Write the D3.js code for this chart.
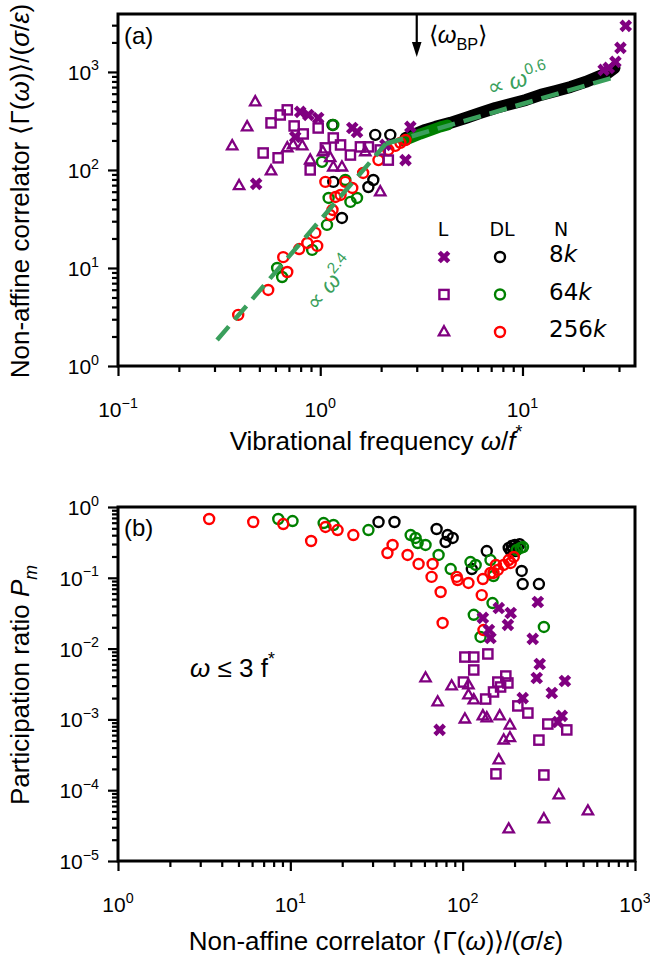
<!DOCTYPE html>
<html>
<head>
<meta charset="utf-8">
<script src="https://cdn.jsdelivr.net/npm/d3@7"></script>
<style>
body { margin: 0; background: #fff; }
text { font-family: "Liberation Sans", Arial, sans-serif; }
</style>
</head>
<body>
<script>
// ---------- panel (a): <Gamma(w)> vs w/f* ----------
var aL8k = [[0.482,72],[0.796,391],[0.873,364],[0.977,339],[0.752,217],[1.44,268],[1.52,244],[2.79,275],[2.64,126],[2.10,180],[25.2,1048],[26.7,1099],[28.8,1265],[30.5,1757],[32.4,2946]];
var aL64k = [[0.522,149],[0.619,133],[0.571,302],[0.634,364],[0.687,410],[0.743,281],[0.824,233],[0.892,100],[0.977,268],[1.16,212],[1.06,168],[1.58,172],[1.73,172],[1.98,160],[2.17,126],[1.26,180],[1.41,142]];
var aL256k = [[0.477,494],[0.435,275],[0.367,176],[0.397,69],[0.571,97.7],[0.687,168],[0.734,180],[0.815,176],[0.892,126],[1.03,153],[1.12,133],[1.16,107],[1.28,107],[1.98,59.6],[1.67,153]];
var aDL8k = [[1.15,288],[1.16,75.5],[1.28,32.4],[1.73,67],[1.83,79],[1.87,228],[2.22,228]];
var aDL8kBand = [[2.64,212],[2.95,233],[3.31,256],[3.71,275],[4.40,302],[5.23,339],[6.19,382],[7.35,429],[8.73,471],[10.4,518],[12.3,583],[14.6,640],[17.3,703],[20.5,791],[23.5,889],[26.4,977],[28.5,1099]];
var aDL64k = [[1.16,288],[1.02,121],[1.10,51.8],[1.52,51.8],[1.41,47.2],[1.08,27.5],[0.912,15.3],[0.648,8.09],[0.612,10.0],[1.33,79]];
var aDL64kBand = [[2.58,198],[3.13,233],[3.93,275],[4.26,288]];
var aDL256k = [[0.393,3.32],[0.553,5.97],[0.687,9.10],[0.656,12.9],[0.787,15.6],[0.863,18.0],[0.966,16.8],[0.945,22.8],[1.06,75.5],[1.33,75.5],[1.44,65.5],[1.26,55.6],[1.19,53],[1.15,39.1],[1.12,34.7],[1.63,93.2],[2.49,189],[2.35,176],[2.64,202],[1.94,126],[2.17,160]];
var fit24 = [[0.309,1.84],[2.11,185]];
var fit06 = [[2.11,185],[28.8,890]];
var omegaBP = 3.0;

// ---------- panel (b): P_m vs <Gamma(w)>, w <= 3 f* ----------
var bDL8k = [[32.5,0.614],[40.2,0.614],[70.6,0.489],[81.8,0.402],[87.5,0.365],[79.6,0.320],[138,0.239],[113,0.133],[220,0.125],[223,0.0817],[277,0.0817],[185,0.264],[193,0.281],[201,0.291],[209,0.272],[196,0.255],[203,0.239],[190,0.239],[214,0.298]];
var bDL64k = [[8.51,0.677],[10.3,0.634],[15.6,0.594],[17.8,0.557],[28.4,0.473],[49.9,0.402],[53.3,0.365],[54.8,0.310],[60.9,0.291],[72.5,0.210],[85.2,0.133],[111,0.167],[119,0.152],[145,0.178],[151,0.106],[149,0.044],[116,0.030],[127,0.0146],[296,0.0202],[217,0.264],[224,0.272],[206,0.247]];
var bDL256k = [[3.38,0.677],[6.09,0.614],[9.10,0.575],[13.2,0.331],[16.0,0.522],[18.8,0.473],[23.2,0.402],[39.2,0.291],[36.6,0.224],[47.9,0.210],[55.5,0.157],[66.9,0.157],[66.0,0.103],[74.5,0.063],[92.3,0.103],[93.5,0.093],[108,0.0845],[129,0.057],[76.5,0.023],[132,0.0183],[131,0.096],[145,0.117],[160,0.129],[173,0.152],[185,0.178],[198,0.197],[156,0.152],[190,0.162],[151,0.117]];
var bL8k = [[273,0.0455],[131,0.0271],[162,0.0374],[190,0.0318],[183,0.0216],[142,0.0183],[145,0.0141],[255,0.0137],[280,0.00606],[269,0.00384],[392,0.00349],[329,0.00236],[223,0.0020],[376,0.00112],[357,0.00092],[73.5,0.00071]];
var bL64k = [[103,0.0076],[116,0.0076],[140,0.0084],[116,0.00499],[101,0.00337],[160,0.00337],[178,0.0041],[183,0.00327],[166,0.00287],[151,0.00244],[136,0.00194],[209,0.00155],[239,0.00123],[312,0.00086],[402,0.00071],[277,0.00051],[156,0.00017],[296,0.000164]];
var bL256k = [[60.9,0.00384],[86.3,0.00296],[108,0.00306],[108,0.00221],[116,0.00188],[71.6,0.00176],[103,0.00101],[131,0.00112],[138,0.00105],[164,0.00112],[188,0.00083],[173,0.00051],[188,0.00055],[162,0.000267],[361,0.0000855],[533,0.0000508],[296,0.0000392],[185,0.0000283]];

var aXTicks = [0.1, 1, 10];
var aYTicks = [1, 10, 100, 1000];
var bXTicks = [1, 10, 100, 1000];
var bYTicks = [1e-5, 1e-4, 1e-3, 1e-2, 1e-1, 1];

var legendRows = ["8", "64", "256"];

var PURPLE = "#800080", GREEN = "#008000", RED = "#ff0000", FIT = "#3a9f5c";

var svg = d3.select("body").append("svg")
	.attr("width", 650)
	.attr("height", 962);

// minor ticks 2..9 of every decade in the domain
function minorTicks(scale) {
	var d = scale.domain(), out = [];
	var lo = Math.floor(Math.log10(d[0])), hi = Math.ceil(Math.log10(d[1]));
	for (var e = lo; e < hi; e++)
		for (var m = 2; m <= 9; m++) {
			var v = m * Math.pow(10, e);
			if (v > d[0] && v < d[1]) out.push(v);
		}
	return out;
}

// text with italic / super / subscript pieces
function rich(t, parts) {
	var shift = 0;
	parts.forEach(function (p) {
		var s = t.append("tspan").text(p[0]);
		var st = p[1] || "";
		var want = 0;
		if (st.indexOf("sup") >= 0) want = -0.45;
		if (st.indexOf("sub") >= 0) want = 0.3;
		var base = parseFloat(t.attr("font-size"));
		if (want !== shift) s.attr("dy", ((want - shift) * base) + "px");
		shift = want;
		if (want !== 0) s.attr("font-size", (base * 0.68) + "px");
		if (st.indexOf("i") === 0 || st.indexOf("isub") >= 0) s.attr("font-style", "italic");
	});
	return t;
}

function expLabel(v) {
	var e = Math.round(Math.log10(v));
	return String(e).replace("-", "\u2212");
}

function drawAxes(x, y, xt, yt) {
	var left = x.range()[0], right = x.range()[1];
	var top = y.range()[1], bottom = y.range()[0];
	var g = svg.append("g");

	g.append("g").attr("transform", "translate(0," + bottom + ")")
		.call(d3.axisBottom(x).tickValues(xt).tickSize(10).tickFormat(""));
	g.append("g").attr("transform", "translate(0," + bottom + ")")
		.call(d3.axisBottom(x).tickValues(minorTicks(x)).tickSize(6).tickFormat(""));
	g.append("g").attr("transform", "translate(" + left + ",0)")
		.call(d3.axisLeft(y).tickValues(yt).tickSize(10).tickFormat(""));
	g.append("g").attr("transform", "translate(" + left + ",0)")
		.call(d3.axisLeft(y).tickValues(minorTicks(y)).tickSize(6).tickFormat(""));
	g.selectAll(".domain").remove();
	g.selectAll(".tick line").attr("stroke", "#000").attr("stroke-width", 2.2);

	g.append("rect")
		.attr("x", left).attr("y", top)
		.attr("width", right - left).attr("height", bottom - top)
		.attr("fill", "none").attr("stroke", "#000").attr("stroke-width", 3);

	xt.forEach(function (v) {
		rich(g.append("text").attr("x", x(v)).attr("y", bottom + 51)
			.attr("text-anchor", "middle").attr("font-size", 21),
			[["10"], [expLabel(v), "sup"]]);
	});
	yt.forEach(function (v) {
		rich(g.append("text").attr("x", left - 19).attr("y", y(v) + 8)
			.attr("text-anchor", "end").attr("font-size", 21),
			[["10"], [expLabel(v), "sup"]]);
	});
	return g;
}

// marker shapes
var crossPath = d3.symbol().type(d3.symbolCross).size(100)();
function drawMarkers(g, data, x, y, kind, color) {
	var sel = g.append("g").selectAll("g").data(data).enter().append("g")
		.attr("transform", function (d) { return "translate(" + x(d[0]) + "," + y(d[1]) + ")"; });
	if (kind === "circle") {
		sel.append("circle").attr("r", 5).attr("fill", "none")
			.attr("stroke", color).attr("stroke-width", 2.4);
	} else if (kind === "square") {
		sel.append("rect").attr("x", -4.6).attr("y", -4.6).attr("width", 9.2).attr("height", 9.2)
			.attr("fill", "none").attr("stroke", color).attr("stroke-width", 2.4);
	} else if (kind === "triangle") {
		sel.append("path").attr("d", "M0,-5.8L5.2,3.4L-5.2,3.4Z")
			.attr("fill", "none").attr("stroke", color).attr("stroke-width", 2.3)
			.attr("stroke-linejoin", "miter");
	} else {
		sel.append("path").attr("d", crossPath).attr("transform", "rotate(45)")
			.attr("fill", color);
	}
}

function band(g, data, x, y, color, w) {
	var line = d3.line().x(function (d) { return x(d[0]); }).y(function (d) { return y(d[1]); });
	g.append("path").attr("d", line(data)).attr("fill", "none")
		.attr("stroke", color).attr("stroke-width", w)
		.attr("stroke-linecap", "round").attr("stroke-linejoin", "round");
}

// ===== panel (a) =====
var aX = d3.scaleLog().domain([0.1, 36]).range([118, 635]);
var aY = d3.scaleLog().domain([1, 3900]).range([366, 14]);
var ga = drawAxes(aX, aY, aXTicks, aYTicks);

band(ga, aDL8kBand, aX, aY, "#000", 12);
drawMarkers(ga, aDL8k, aX, aY, "circle", "#000");
band(ga, aDL64kBand, aX, aY, GREEN, 11);
drawMarkers(ga, aDL64k, aX, aY, "circle", GREEN);
drawMarkers(ga, aDL256k, aX, aY, "circle", RED);
drawMarkers(ga, aL8k, aX, aY, "cross", PURPLE);
drawMarkers(ga, aL64k, aX, aY, "square", PURPLE);
drawMarkers(ga, aL256k, aX, aY, "triangle", PURPLE);

var fitLine = d3.line().x(function (d) { return aX(d[0]); }).y(function (d) { return aY(d[1]); });
[fit24, fit06].forEach(function (f) {
	ga.append("path").attr("d", fitLine(f)).attr("fill", "none")
		.attr("stroke", FIT).attr("stroke-width", 4.5).attr("stroke-dasharray", "18,9");
});

rich(ga.append("text").attr("font-size", 23).attr("fill", FIT)
	.attr("transform", "translate(490,96) rotate(-16)"),
	[["\u221D "], ["\u03C9", "i"], ["0.6", "sup"]]);
rich(ga.append("text").attr("font-size", 23).attr("fill", FIT)
	.attr("transform", "translate(316,312) rotate(-50)"),
	[["\u221D "], ["\u03C9", "i"], ["2.4", "sup"]]);

// <w_BP> arrow
var ax = aX(omegaBP);
ga.append("line").attr("x1", ax).attr("x2", ax).attr("y1", 14).attr("y2", 46)
	.attr("stroke", "#000").attr("stroke-width", 2.2);
ga.append("path").attr("d", "M" + (ax - 4.8) + ",42L" + (ax + 4.8) + ",42L" + ax + ",57Z").attr("fill", "#000");
rich(ga.append("text").attr("x", ax + 12).attr("y", 43).attr("font-size", 24),
	[["\u27E8"], ["\u03C9", "i"], ["BP", "sub"], ["\u27E9"]]);

ga.append("text").attr("x", 124).attr("y", 44).attr("font-size", 24).text("(a)");

// legend
var lg = ga.append("g");
lg.selectAll("text.h").data(["L", "DL", "N"]).enter().append("text")
	.attr("x", function (d, i) { return [443, 502, 561][i]; }).attr("y", 236)
	.attr("text-anchor", "middle").attr("font-size", 19).style("font-family", "DejaVu Sans")
	.text(function (d) { return d; });
var legKinds = ["cross", "square", "triangle"], legColors = ["#000", GREEN, RED];
legendRows.forEach(function (n, i) {
	var yy = 257 + i * 37.5;
	var row = [[0, 0]];
	var lx = d3.scaleLinear().domain([0, 1]).range([444, 445]);
	var ly = d3.scaleLinear().domain([0, 1]).range([yy, yy + 1]);
	drawMarkers(lg, row, lx, ly, legKinds[i], PURPLE);
	var lx2 = d3.scaleLinear().domain([0, 1]).range([500, 501]);
	drawMarkers(lg, row, lx2, ly, "circle", legColors[i]);
	rich(lg.append("text").attr("x", 549).attr("y", yy + 5).attr("font-size", 23)
		.style("font-family", "DejaVu Sans"), [[n], ["k", "i"]]);
});

rich(svg.append("text").attr("x", 376).attr("y", 450).attr("text-anchor", "middle").attr("font-size", 26),
	[["Vibrational frequency "], ["\u03C9", "i"], ["/"], ["f", "i"], ["*", "sup"]]);
rich(svg.append("text").attr("transform", "translate(29,191) rotate(-90)").attr("text-anchor", "middle").attr("font-size", 26),
	[["Non-affine correlator \u27E8\u0393("], ["\u03C9", "i"], [")\u27E9/("], ["\u03C3", "i"], ["/"], ["\u03B5", "i"], [")"]]);

// ===== panel (b) =====
var bX = d3.scaleLog().domain([1, 1000]).range([118, 635]);
var bY = d3.scaleLog().domain([1e-5, 1]).range([861, 507]);
var gb = drawAxes(bX, bY, bXTicks, bYTicks);

drawMarkers(gb, bDL8k, bX, bY, "circle", "#000");
drawMarkers(gb, bDL64k, bX, bY, "circle", GREEN);
drawMarkers(gb, bDL256k, bX, bY, "circle", RED);
drawMarkers(gb, bL8k, bX, bY, "cross", PURPLE);
drawMarkers(gb, bL64k, bX, bY, "square", PURPLE);
drawMarkers(gb, bL256k, bX, bY, "triangle", PURPLE);

gb.append("text").attr("x", 124).attr("y", 536).attr("font-size", 24).text("(b)");
rich(gb.append("text").attr("x", 190).attr("y", 677).attr("font-size", 26),
	[["\u03C9", "i"], [" \u2264 3 f"], ["*", "sup"]]);

rich(svg.append("text").attr("x", 376).attr("y", 950).attr("text-anchor", "middle").attr("font-size", 26),
	[["Non-affine correlator \u27E8\u0393("], ["\u03C9", "i"], [")\u27E9/("], ["\u03C3", "i"], ["/"], ["\u03B5", "i"], [")"]]);
rich(svg.append("text").attr("transform", "translate(29,685) rotate(-90)").attr("text-anchor", "middle").attr("font-size", 26),
	[["Participation ratio "], ["P", "i"], ["m", "isub"]]);
</script>
</body>
</html>
